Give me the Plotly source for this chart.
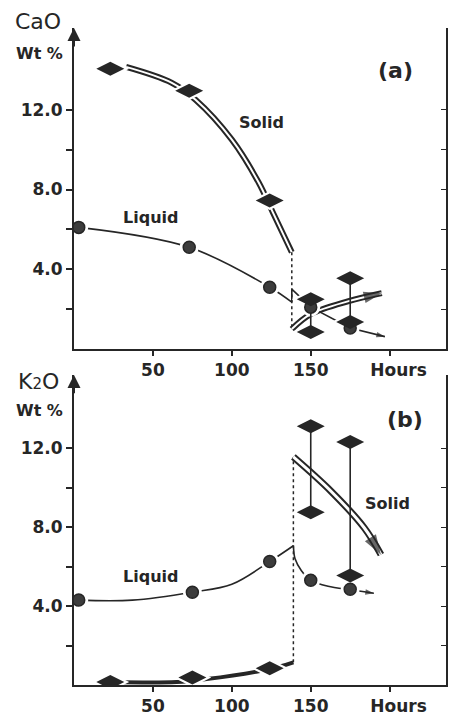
import plotly.graph_objects as go

# ---------------- data ----------------
# Panel (a): CaO wt %
a_liq_hours = [3, 73, 124, 150, 175]
a_liq_cao = [6.1, 5.1, 3.1, 2.1, 1.05]
a_sol_hours = [23, 73, 124]
a_sol_cao = [14.05, 12.95, 7.45]
a_rng_hours = [150, 175]
a_rng_hi = [2.5, 3.55]
a_rng_lo = [0.85, 1.35]

a_sol_trend_h = [33, 62, 77, 100, 117, 126, 138]
a_sol_trend_v = [14.15, 13.35, 12.5, 10.5, 8.35, 6.85, 4.85]
a_sol_after_h = [138, 150, 174, 195]
a_sol_after_v = [1.0, 1.75, 2.4, 2.8]
a_liq_trend_h = [3, 73, 124, 138]
a_liq_trend_v = [6.1, 5.1, 3.1, 2.35]
a_liq_after_h = [138, 138, 150, 175, 197]
a_liq_after_v = [2.35, 3.0, 2.1, 1.05, 0.62]
a_step_h = [138, 138]
a_step_v = [4.85, 1.0]

# Panel (b): K2O wt %
b_liq_hours = [3, 75, 124, 150, 175]
b_liq_k2o = [4.3, 4.7, 6.25, 5.3, 4.85]
b_sol_hours = [23, 75, 124]
b_sol_k2o = [0.15, 0.38, 0.85]
b_rng_hours = [150, 175]
b_rng_hi = [13.1, 12.3]
b_rng_lo = [8.75, 5.55]

b_liq_trend_h = [3, 37, 75, 100, 124, 139]
b_liq_trend_v = [4.3, 4.3, 4.7, 5.1, 6.25, 7.05]
b_liq_after_h = [139, 140, 144, 150, 161, 175, 190]
b_liq_after_v = [7.05, 6.4, 5.8, 5.3, 5.0, 4.82, 4.65]
b_sol_trend_h = [23, 65, 84, 117, 131, 139]
b_sol_trend_v = [0.15, 0.15, 0.3, 0.7, 0.95, 1.15]
b_sol_after_h = [139, 163, 184, 194.5]
b_sol_after_v = [11.55, 9.8, 7.95, 6.6]
b_step_h = [139, 139]
b_step_v = [1.15, 11.55]

x_tick_vals = [50, 100, 150, 200]
x_tick_text = ["50", "100", "150", "\u00a0\u00a0\u00a0Hours"]
y_tick_vals = [2, 4, 6, 8, 10, 12]
y_tick_text = ["", "4.0", "", "8.0", "", "12.0"]

X_MAX = 235.7
Y_MAX_A = 16.1
Y_MAX_B = 15.7

INK = "#262626"
FONT = "DejaVu Sans"

fig = go.Figure()


def arrow_sizes(n, size):
    return [0] * (n - 1) + [size]


def add_panel(xa, ya, yr,
              liq_h, liq_v, sol_h, sol_v, rng_h, rng_hi, rng_lo,
              sol_trend_h, sol_trend_v, sol_thick,
              sol_after_h, sol_after_v,
              liq_trend_h, liq_trend_v, liq_after_h, liq_after_v,
              step_h, step_v, liq_after_shape, dbl_w, dbl_in, head):
    # solid trend before step
    if sol_thick:
        fig.add_trace(go.Scatter(x=sol_trend_h, y=sol_trend_v, xaxis=xa, yaxis=ya, mode="lines",
                                 line=dict(color=INK, width=4, shape="spline"), hoverinfo="skip"))
    else:
        fig.add_trace(go.Scatter(x=sol_trend_h, y=sol_trend_v, xaxis=xa, yaxis=ya, mode="lines",
                                 line=dict(color=INK, width=6, shape="spline"), hoverinfo="skip"))
        fig.add_trace(go.Scatter(x=sol_trend_h, y=sol_trend_v, xaxis=xa, yaxis=ya, mode="lines",
                                 line=dict(color="white", width=2, shape="spline"), hoverinfo="skip"))
    # dotted step
    fig.add_trace(go.Scatter(x=step_h, y=step_v, xaxis=xa, yaxis=ya, mode="lines",
                             line=dict(color=INK, width=1.5, dash="dot"), hoverinfo="skip"))
    # solid trend after step (double line with arrow head)
    fig.add_trace(go.Scatter(x=sol_after_h, y=sol_after_v, xaxis=xa, yaxis=ya, mode="lines",
                             line=dict(color=INK, width=dbl_w, shape="spline"), hoverinfo="skip"))
    fig.add_trace(go.Scatter(x=sol_after_h, y=sol_after_v, xaxis=xa, yaxis=ya, mode="lines",
                             line=dict(color="white", width=dbl_in, shape="spline"), hoverinfo="skip"))
    fig.add_trace(go.Scatter(x=sol_after_h[-2:], y=sol_after_v[-2:], xaxis=xa, yaxis=ya, mode="markers",
                             marker=dict(symbol="arrow", angleref="previous", size=[0, head],
                                         color=INK, line=dict(width=0)),
                             cliponaxis=False, hoverinfo="skip"))
    # liquid trend
    fig.add_trace(go.Scatter(x=liq_trend_h, y=liq_trend_v, xaxis=xa, yaxis=ya, mode="lines",
                             line=dict(color=INK, width=1.6, shape="spline"), hoverinfo="skip"))
    m = len(liq_after_h)
    fig.add_trace(go.Scatter(x=liq_after_h, y=liq_after_v, xaxis=xa, yaxis=ya, mode="lines+markers",
                             line=dict(color=INK, width=1.6, shape=liq_after_shape, smoothing=0.8),
                             marker=dict(symbol="arrow", angleref="previous", size=arrow_sizes(m, 9),
                                         color=INK, line=dict(width=0)),
                             hoverinfo="skip"))
    # halos
    all_d_h = sol_h + rng_h + rng_h
    all_d_v = sol_v + rng_hi + rng_lo
    fig.add_trace(go.Scatter(x=all_d_h, y=all_d_v, xaxis=xa, yaxis=ya, mode="markers",
                             marker=dict(symbol="diamond-wide", size=27, color="white"), hoverinfo="skip"))
    fig.add_trace(go.Scatter(x=liq_h, y=liq_v, xaxis=xa, yaxis=ya, mode="markers",
                             marker=dict(symbol="circle", size=19, color="white"), hoverinfo="skip"))
    # range bars
    rx, ry = [], []
    for h, hi, lo in zip(rng_h, rng_hi, rng_lo):
        rx += [h, h, None]
        ry += [hi, lo, None]
    fig.add_trace(go.Scatter(x=rx, y=ry, xaxis=xa, yaxis=yr, mode="lines",
                             line=dict(color=INK, width=1.6), hoverinfo="skip"))
    # markers
    fig.add_trace(go.Scatter(x=liq_h, y=liq_v, xaxis=xa, yaxis=yr, mode="markers",
                             marker=dict(symbol="circle", size=12, color="#3c3c3c",
                                         line=dict(color=INK, width=1.5)), name="Liquid"))
    fig.add_trace(go.Scatter(x=all_d_h, y=all_d_v, xaxis=xa, yaxis=yr, mode="markers",
                             marker=dict(symbol="diamond-wide", size=20, color=INK,
                                         line=dict(width=0)), name="Solid"))


add_panel("x", "y", "y3",
          a_liq_hours, a_liq_cao, a_sol_hours, a_sol_cao, a_rng_hours, a_rng_hi, a_rng_lo,
          a_sol_trend_h, a_sol_trend_v, False,
          a_sol_after_h, a_sol_after_v,
          a_liq_trend_h, a_liq_trend_v, a_liq_after_h, a_liq_after_v,
          a_step_h, a_step_v, "linear", 6, 2, 19)
add_panel("x2", "y2", "y4",
          b_liq_hours, b_liq_k2o, b_sol_hours, b_sol_k2o, b_rng_hours, b_rng_hi, b_rng_lo,
          b_sol_trend_h, b_sol_trend_v, True,
          b_sol_after_h, b_sol_after_v,
          b_liq_trend_h, b_liq_trend_v, b_liq_after_h, b_liq_after_v,
          b_step_h, b_step_v, "spline", 7, 3, 21)

tick_font = dict(family=FONT, size=17, color=INK, weight="bold")


def xaxis(anchor):
    return dict(domain=[0, 1], range=[0, X_MAX], anchor=anchor, showline=True, linewidth=2,
                linecolor=INK, ticks="outside", ticklen=5, tickwidth=1.5, tickcolor=INK,
                tickvals=x_tick_vals, ticktext=x_tick_text, tickfont=tick_font,
                showgrid=False, zeroline=False)


def yaxis(domain, ymax, anchor):
    return dict(domain=domain, range=[0, ymax], anchor=anchor, showline=True, linewidth=2,
                linecolor=INK, mirror=True, ticks="outside", ticklen=6, tickwidth=1.5, tickcolor=INK,
                tickvals=y_tick_vals, ticktext=y_tick_text, tickfont=tick_font,
                showgrid=False, zeroline=False)


def right_axis(over, ymax):
    return dict(overlaying=over, side="right", anchor="x" if over == "y" else "x2",
                range=[0, ymax], showline=True, linewidth=1.5, linecolor=INK,
                ticks="inside", ticklen=5, tickwidth=1.2, tickcolor=INK,
                tickvals=y_tick_vals, showticklabels=False, showgrid=False, zeroline=False)


DOM_A = [0.5114, 1.0]
DOM_B = [0.0, 0.4719]

ann = []
lab = dict(family=FONT, size=16, color=INK, weight="bold")
big = dict(family=FONT, size=22, color=INK, weight="bold")
ann += [
    dict(x=118.5, y=11.35, xref="x", yref="y", text="Solid", showarrow=False, font=lab),
    dict(x=48.5, y=6.6, xref="x", yref="y", text="Liquid", showarrow=False, font=lab),
    dict(x=204, y=13.95, xref="x", yref="y", text="(a)", showarrow=False, font=big),
    dict(x=198.5, y=9.2, xref="x2", yref="y2", text="Solid", showarrow=False, font=lab),
    dict(x=48.5, y=5.5, xref="x2", yref="y2", text="Liquid", showarrow=False, font=lab),
    dict(x=210, y=13.43, xref="x2", yref="y2", text="(b)", showarrow=False, font=big),
]
# axis arrowheads
for xr, yr, ymax in (("x", "y", Y_MAX_A), ("x2", "y2", Y_MAX_B)):
    ann.append(dict(x=0, y=ymax, xref=xr, yref=yr, ax=0, ay=ymax - 1.0, axref=xr, ayref=yr,
                    showarrow=True, arrowhead=2, arrowsize=1.3, arrowwidth=2, arrowcolor=INK,
                    text=""))

PW = 374.0
PH = 659.0


def px(xp):
    return (xp - 74) / PW


def py(yp):
    return (687 - yp) / PH


title_font = dict(family=FONT, size=22, color=INK)
wt_font = dict(family=FONT, size=16, color=INK, weight="bold")
for t, xp, yp, f in (("CaO", 38, 21, title_font), ("Wt %", 39, 54, wt_font),
                     ("K<span style='font-size:15px'>2</span>O", 38, 383, title_font),
                     ("Wt %", 39, 412, wt_font)):
    ann.append(dict(x=px(xp), y=py(yp), xref="paper", yref="paper", xanchor="center",
                    yanchor="middle", text=t, showarrow=False, font=f))

fig.update_layout(
    width=451, height=719,
    margin=dict(l=74, r=3, t=28, b=32),
    paper_bgcolor="white", plot_bgcolor="white",
    showlegend=False,
    xaxis=xaxis("y"), yaxis=yaxis(DOM_A, Y_MAX_A, "x"),
    xaxis2=xaxis("y2"), yaxis2=yaxis(DOM_B, Y_MAX_B, "x2"),
    yaxis3=right_axis("y", Y_MAX_A), yaxis4=right_axis("y2", Y_MAX_B),
    annotations=ann,
)

fig.write_html(
    "out.html",
    config={"displayModeBar": False},
    post_script="document.body.style.margin='0';document.body.style.overflow='hidden';",
)
